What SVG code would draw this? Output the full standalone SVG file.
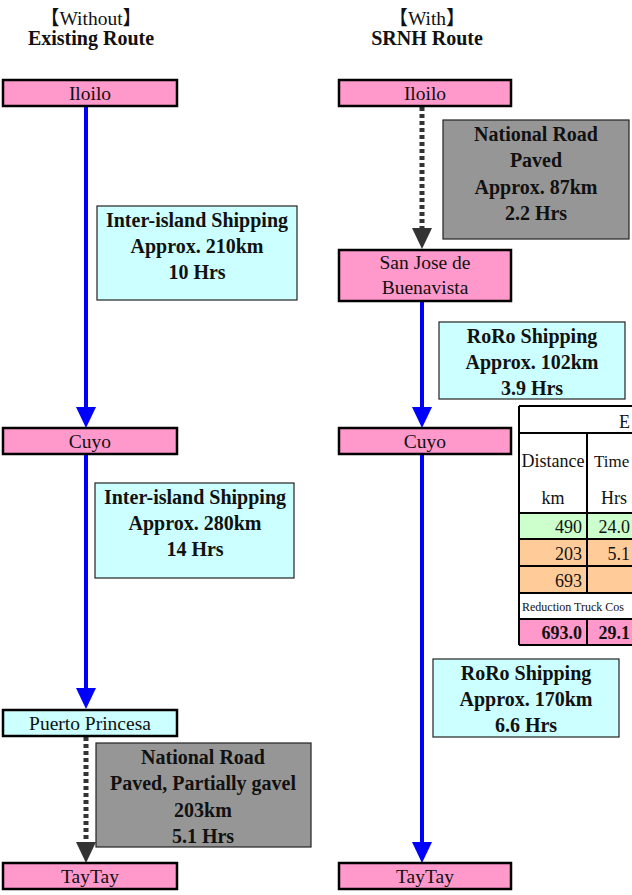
<svg xmlns="http://www.w3.org/2000/svg" width="632" height="895" viewBox="0 0 632 895">
<defs>
<style>
.t{font-family:"Liberation Serif","Times New Roman","Noto Sans CJK JP",serif;font-size:19.5px;fill:#111;text-anchor:middle}
.b{font-weight:bold;font-size:20px}
.node{fill:#FF99CC;stroke:#000;stroke-width:2.5}
.nodec{fill:#CCFFFF;stroke:#000;stroke-width:2.5}
.ship{fill:#CCFFFF;stroke:#222;stroke-width:1.2}
.road{fill:#969696;stroke:#222;stroke-width:1.2}
.blue{stroke:#0000FF;stroke-width:4;fill:none}
.dash{stroke:#333;stroke-width:5;stroke-dasharray:4 3;fill:none}
.hb{fill:#0000FF}
.hd{fill:#333}
.tt{font-family:"Liberation Serif","Times New Roman",serif;font-size:18px;fill:#111}
.cell{stroke:#000;stroke-width:2}
</style>
<clipPath id="clipR"><rect x="0" y="0" width="632" height="895"/></clipPath>
</defs>
<rect width="632" height="895" fill="#fff"/>
<g id="titles">
<text class="t" x="91" y="25">【Without】</text>
<text class="t b" x="91" y="45">Existing Route</text>
<text class="t" x="427" y="25">【With】</text>
<text class="t b" x="427" y="45">SRNH Route</text>
</g>
<g id="connectors">
<line class="blue" x1="86" y1="107" x2="86" y2="409"/>
<polygon class="hb" points="76,407 96,407 86,428"/>
<line class="blue" x1="86" y1="455" x2="86" y2="689"/>
<polygon class="hb" points="76,688 96,688 86,709"/>
<line class="dash" x1="86" y1="737" x2="86" y2="843"/>
<polygon class="hd" points="76,842 96,842 86,863"/>
<line class="dash" x1="422" y1="107" x2="422" y2="229"/>
<polygon class="hd" points="412,228 432,228 422,249"/>
<line class="blue" x1="422" y1="302" x2="422" y2="409"/>
<polygon class="hb" points="412,407 432,407 422,428"/>
<line class="blue" x1="422" y1="455" x2="422" y2="844"/>
<polygon class="hb" points="412,842 432,842 422,863"/>
</g>
<g id="n-iloilo-left"><rect class="node" x="3" y="80" width="174" height="26"/><text class="t" x="90" y="100">Iloilo</text></g>
<g id="n-cuyo-left"><rect class="node" x="3" y="428" width="174" height="26"/><text class="t" x="90" y="448">Cuyo</text></g>
<g id="n-puerto"><rect class="nodec" x="3" y="710" width="174" height="26"/><text class="t" x="90" y="730">Puerto Princesa</text></g>
<g id="n-taytay-left"><rect class="node" x="3" y="863" width="174" height="26"/><text class="t" x="90" y="883">TayTay</text></g>
<g id="n-iloilo-right"><rect class="node" x="339" y="80" width="172" height="26"/><text class="t" x="425" y="100">Iloilo</text></g>
<g id="n-sanjose"><rect class="node" x="339" y="250" width="172" height="51"/><text class="t" x="425" y="269">San Jose de</text><text class="t" x="425" y="294">Buenavista</text></g>
<g id="n-cuyo-right"><rect class="node" x="339" y="428" width="172" height="26"/><text class="t" x="425" y="448">Cuyo</text></g>
<g id="n-taytay-right"><rect class="node" x="339" y="863" width="172" height="26"/><text class="t" x="425" y="883">TayTay</text></g>
<g id="l-ship1"><rect class="ship" x="97" y="206" width="200" height="94"/>
<text class="t b" x="197" y="227">Inter-island Shipping</text><text class="t b" x="197" y="253">Approx. 210km</text><text class="t b" x="197" y="279">10 Hrs</text></g>
<g id="l-ship2"><rect class="ship" x="95" y="483" width="199" height="95"/>
<text class="t b" x="195" y="504">Inter-island Shipping</text><text class="t b" x="195" y="530">Approx. 280km</text><text class="t b" x="195" y="556">14 Hrs</text></g>
<g id="l-road1"><rect class="road" x="96" y="743" width="215" height="104"/>
<text class="t b" x="203" y="764">National Road</text><text class="t b" x="203" y="790">Paved, Partially gavel</text><text class="t b" x="203" y="817">203km</text><text class="t b" x="203" y="843">5.1 Hrs</text></g>
<g id="l-road2"><rect class="road" x="443" y="120" width="186" height="119"/>
<text class="t b" x="536" y="141">National Road</text><text class="t b" x="536" y="167">Paved</text><text class="t b" x="536" y="194">Approx. 87km</text><text class="t b" x="536" y="220">2.2 Hrs</text></g>
<g id="l-roro1"><rect class="ship" x="439" y="322" width="186" height="77"/>
<text class="t b" x="532" y="343">RoRo Shipping</text><text class="t b" x="532" y="369">Approx. 102km</text><text class="t b" x="532" y="395">3.9 Hrs</text></g>
<g id="l-roro2"><rect class="ship" x="433" y="659" width="186" height="78"/>
<text class="t b" x="526" y="680">RoRo Shipping</text><text class="t b" x="526" y="706">Approx. 170km</text><text class="t b" x="526" y="732">6.6 Hrs</text></g>
<g id="table" clip-path="url(#clipR)">
<rect x="519" y="406" width="130" height="239" fill="#fff"/>
<rect x="519" y="513" width="130" height="26" fill="#CCFFCC"/>
<rect x="519" y="540" width="130" height="26" fill="#FFCC99"/>
<rect x="519" y="566" width="130" height="27" fill="#FFCC99"/>
<rect x="519" y="619" width="130" height="26" fill="#FF99CC"/>
<g class="cell">
<line x1="519" y1="406" x2="649" y2="406"/>
<line x1="519" y1="433" x2="649" y2="433"/>
<line x1="519" y1="513" x2="649" y2="513"/>
<line x1="519" y1="539" x2="649" y2="539"/>
<line x1="519" y1="566" x2="649" y2="566"/>
<line x1="519" y1="593" x2="649" y2="593"/>
<line x1="519" y1="619" x2="649" y2="619"/>
<line x1="519" y1="645" x2="649" y2="645"/>
<line x1="519" y1="406" x2="519" y2="645"/>
<line x1="587" y1="433" x2="587" y2="593"/>
<line x1="587" y1="619" x2="587" y2="645"/>
</g>
<text class="tt" x="619" y="428">E</text>
<text class="tt" x="594" y="467" style="font-size:17px">Time</text>
<text class="tt" x="553" y="467" text-anchor="middle">Distance</text>
<text class="tt" x="553" y="504" text-anchor="middle">km</text>
<text class="tt" x="601" y="504">Hrs</text>
<text class="tt" x="582" y="533" text-anchor="end">490</text>
<text class="tt" x="630" y="533" text-anchor="end">24.0</text>
<text class="tt" x="582" y="560" text-anchor="end">203</text>
<text class="tt" x="630" y="560" text-anchor="end">5.1</text>
<text class="tt" x="582" y="587" text-anchor="end">693</text>
<text class="tt" x="522" y="611" style="font-size:12px">Reduction Truck Cos</text>
<text class="tt" x="582" y="639" text-anchor="end" font-weight="bold">693.0</text>
<text class="tt" x="630" y="639" text-anchor="end" font-weight="bold">29.1</text>
</g>
</svg>
